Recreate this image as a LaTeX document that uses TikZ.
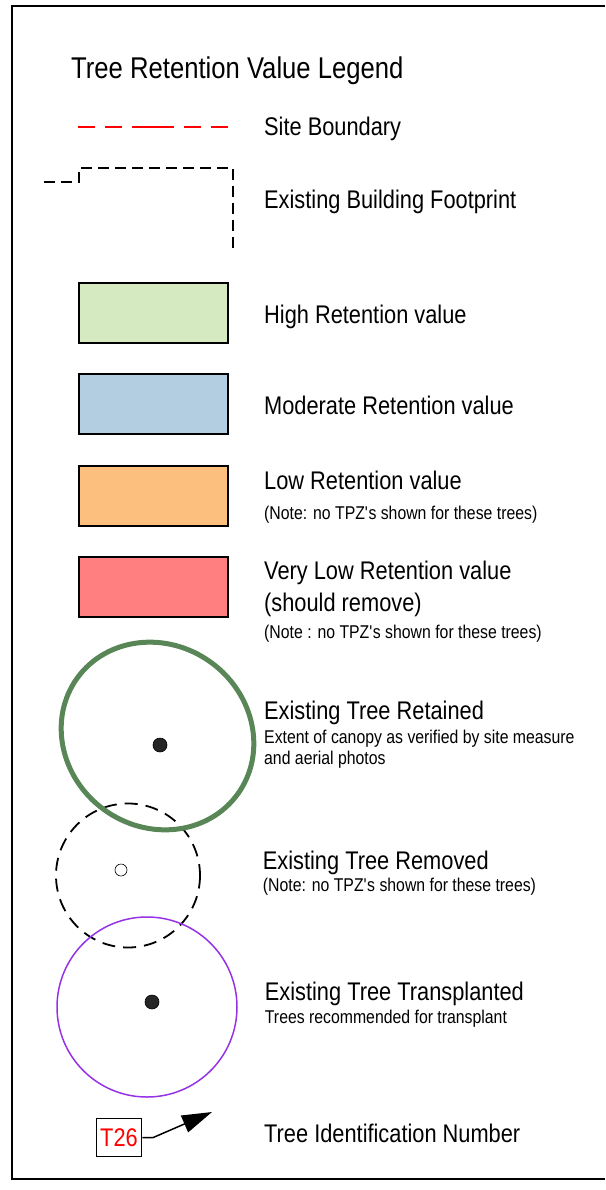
\documentclass[tikz,border=0pt]{standalone}
\usepackage{fontspec}
\setmainfont{Liberation Sans}[FakeStretch=0.855]
\usepackage{xcolor}
\usetikzlibrary{arrows.meta}
\definecolor{highret}{RGB}{213,234,193}
\definecolor{modret}{RGB}{179,206,224}
\definecolor{lowret}{RGB}{253,191,126}
\definecolor{vlowret}{RGB}{255,127,128}
\definecolor{canopygreen}{RGB}{88,134,86}
\definecolor{transpurple}{RGB}{150,50,230}
\tikzstyle{swatch} = [draw, line width=2pt, minimum width=149pt,
minimum height=60pt, inner sep=0pt]
\tikzstyle{idline} = [draw, line width=1.5pt, -{Triangle[length=30pt,width=18pt]}]

\begin{document}
\begin{tikzpicture}[x=1pt, y=-1pt,
      heading/.style={anchor=base west, inner sep=0pt,
      font=\fontsize{30}{36}\selectfont},
      legtext/.style={anchor=base west, inner sep=0pt,
      font=\fontsize{25.5}{30}\selectfont},
      legnote/.style={anchor=base west, inner sep=0pt,
      font=\fontsize{18.5}{22}\selectfont},
      treedot/.style={circle, draw, line width=0.6pt, fill=black!85,
      minimum size=14pt, inner sep=0pt}]
    \useasboundingbox (0,0) rectangle (605,1190);
    %% Frame
    \draw [line width=2pt] (605,6) -- (12,6) -- (12,1179) -- (605,1179);
    %% Title
    \node [heading] at (71,78.3) (title) {Tree Retention Value Legend};
    %% Site boundary
    \draw [red, line width=1.5pt,
      dash pattern=on 17pt off 10pt on 17pt off 10pt on 42pt off 10pt on 17pt off 10pt on 17pt off 100pt]
      (78,127) -- (228,127);
    \node [legtext] at (264,135.7) (site) {Site Boundary};
    %% Building footprint
    \draw [line width=1.5pt, dash pattern=on 11pt off 6pt]
      (44,182) -- (79,182) -- (79,168) -- (233,168) -- (233,251);
    \node [legtext] at (264,209) (bldg) {Existing Building Footprint};
    %% Retention values
    \node [swatch, fill=highret] at (153.5,313) (high) {};
    \node [swatch, fill=modret] at (153.5,404) (mod) {};
    \node [swatch, fill=lowret] at (153.5,495.5) (low) {};
    \node [swatch, fill=vlowret] at (153.5,586.5) (vlow) {};
    \node [legtext] at (264,323) (hightext) {High Retention value};
    \node [legtext] at (264,414) (modtext) {Moderate Retention value};
    \node [legtext] at (264,489.3) (lowtext) {Low Retention value};
    \node [legnote] at (264,519) (lownote) {(Note: no TPZ\textquotesingle s shown for these trees)};
    \node [legtext] at (264,579.5) (vlowtext) {Very Low Retention value};
    \node [legtext] at (264,611.5) (vlowtext2) {(should remove)};
    \node [legnote] at (264,638) (vlownote) {(Note : no TPZ\textquotesingle s shown for these trees)};
    %% Trees
    \draw [line width=1.8pt, dash pattern=on 13pt off 8pt] (128,875.5) circle [radius=72];
    \draw [canopygreen, line width=5pt, rotate around={-36:(157.5,736)}]
      (157.5,736) ellipse [x radius=99, y radius=91];
    \draw [transpurple, line width=1.5pt] (147,1007) circle [radius=90];
    \node [treedot] at (160,745) (retdot) {};
    \node [treedot, fill=white, minimum size=12pt] at (121,870) (remdot) {};
    \node [treedot] at (152,1002) (transdot) {};
    \node [legtext] at (264,719) (rettext) {Existing Tree Retained};
    \node [legnote] at (264,743) (retnote) {Extent of canopy as verified by site measure};
    \node [legnote] at (264,764) (retnote2) {and aerial photos};
    \node [legtext] at (262.7,869) (remtext) {Existing Tree Removed};
    \node [legnote] at (262.7,891) (remnote) {(Note: no TPZ\textquotesingle s shown for these trees)};
    \node [legtext] at (264.7,1000.7) (transtext) {Existing Tree Transplanted};
    \node [legnote] at (264.7,1023) (transnote) {Trees recommended for transplant};
    %% Tree identification
    \node [draw, line width=1.5pt, minimum width=45pt, minimum height=38pt,
      inner sep=0pt, text=red, font=\fontsize{25.5}{30}\selectfont]
      at (119,1137.5) (T26) {T26};
    \coordinate (tip) at (212,1112);
    \path [idline] (T26.east) -- ++(11,0) -- (tip);
    \node [legtext] at (264,1142.7) (idtext) {Tree Identification Number};
\end{tikzpicture}
\end{document}
